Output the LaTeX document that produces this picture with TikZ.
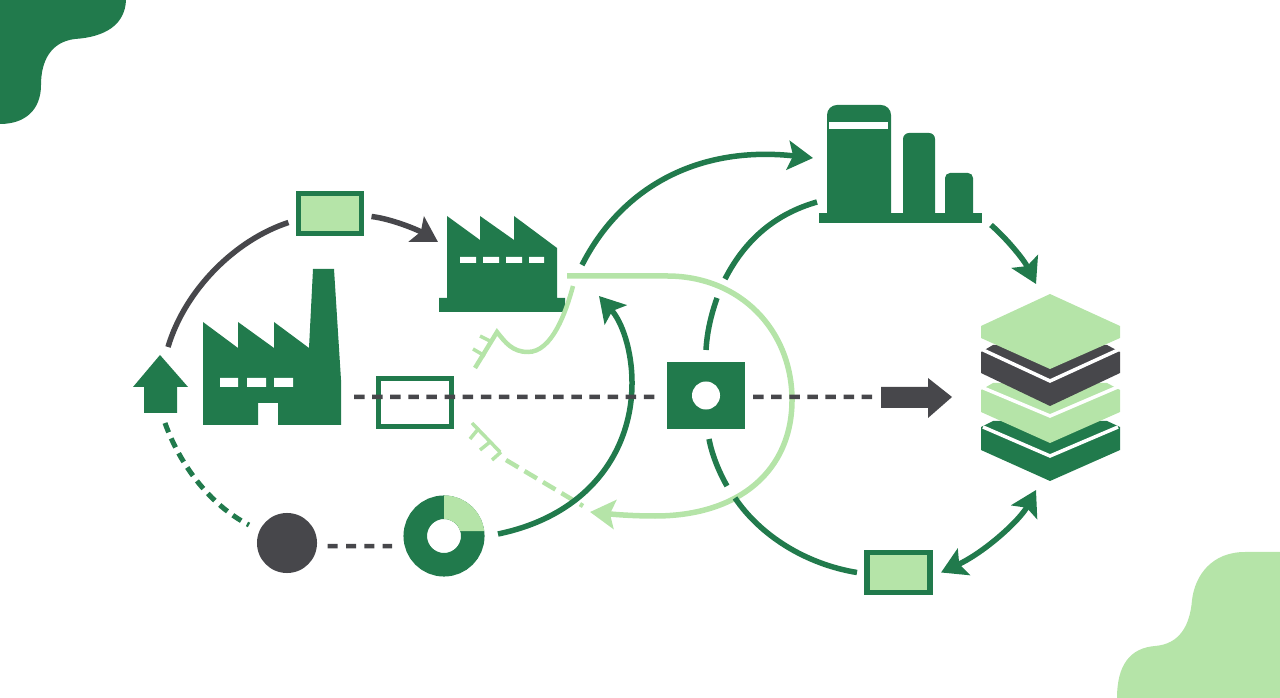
\documentclass[tikz,border=0pt]{standalone}
\usepackage{tikz}
\usetikzlibrary{arrows.meta,positioning,calc}

\definecolor{forest}{HTML}{217A4C}
\definecolor{leaf}{HTML}{B5E4A8}
\definecolor{slate}{HTML}{47474B}

\begin{document}
\begin{tikzpicture}[
  x=0.01cm, y=-0.01cm,
  tokenbox/.style={draw=forest, line width=.055cm, fill=leaf, inner sep=0pt, outer sep=0pt, minimum width=.63cm, minimum height=.40cm},
  hollowbox/.style={draw=forest, line width=.055cm, inner sep=0pt, outer sep=0pt, minimum width=.725cm, minimum height=.475cm},
  arr/.style={-{Stealth[length=.25cm, width=.29cm, inset=.05cm]}, line width=.055cm},
  biarr/.style={{Stealth[length=.25cm, width=.29cm, inset=.05cm]}-{Stealth[length=.25cm, width=.29cm, inset=.05cm]}, line width=.055cm},
  arc line/.style={line width=.055cm},
  flow dash/.style={slate, line width=.045cm, dash pattern=on .105cm off .076cm},
  thin tick/.style={leaf, line width=.035cm}
]
\useasboundingbox (0,0) rectangle (1280,698);

% ---------- Corner blobs ----------
\fill[forest] (0,0) -- (126,0) .. controls (125,25) and (105,37) .. (75,39)
  .. controls (50,42) and (41,62) .. (41,85) .. controls (41,110) and (25,124) .. (0,124) -- cycle;
\fill[leaf] (1280,552) -- (1245,552) .. controls (1212,552) and (1195,575) .. (1192,600)
  .. controls (1190,625) and (1180,644) .. (1155,646) .. controls (1130,648) and (1117,665) .. (1117,698)
  -- (1280,698) -- cycle;

% ---------- Boxes and dots ----------
\node[tokenbox] (topbox) at (330,213.5) {};
\node[tokenbox] (lowbox) at (898.5,572.5) {};
\node[hollowbox] (midbox) at (415,402.5) {};
\node[fill=forest, inner sep=0pt, outer sep=0pt, minimum width=.78cm, minimum height=.67cm] (hub) at (706,395.5) {};
\node[circle, fill=white, inner sep=0pt, minimum size=.28cm] (hubhole) at (hub.center) {};
\node[circle, fill=slate, inner sep=0pt, minimum size=.60cm] (greydot) at (287,543) {};
\node[circle, draw=forest, line width=.235cm, inner sep=0pt, outer sep=0pt, minimum size=.575cm] (donut) at (444,536) {};
\fill[leaf] ([yshift=.405cm]donut.center) arc[start angle=90, end angle=7, radius=.405cm]
  -- (460.3,531) arc[start angle=17, end angle=90, radius=.17cm] -- cycle;

% ---------- Lower factory ----------
\fill[forest] (203,322) -- (238,348) -- (238,322) -- (274,348) -- (274,322) -- (309,348) -- (313,269) -- (334,269)
  -- (341,380) -- (341,425) -- (278,425) -- (278,403) -- (258,403) -- (258,425) -- (203,425) -- cycle;
\fill[white] (220,378) rectangle (238,387) (247,378) rectangle (266,387) (274,378) rectangle (293,387);
\fill[forest] (160,355) -- (188,387) -- (177,387) -- (177,413) -- (144,413) -- (144,387) -- (133,387) -- cycle;

% ---------- Upper factory ----------
\fill[forest] (447,216) -- (480,240) -- (480,216) -- (514,240) -- (514,216) -- (557,248) -- (557,298) -- (565,298)
  -- (565,312) -- (439,312) -- (439,298) -- (447,298) -- cycle;
\fill[white] (460,257) rectangle (476,263) (483,257) rectangle (499,263) (506,257) rectangle (522,263) (529,257) rectangle (544,263);

% ---------- Silos ----------
\fill[forest, rounded corners=.1cm] (827,215) -- (827,105) -- (891,105) -- (891,215);
\fill[forest, rounded corners=.06cm] (903,215) -- (903,133) -- (935,133) -- (935,215);
\fill[forest, rounded corners=.05cm] (945,215) -- (945,173) -- (973,173) -- (973,215);
\fill[forest] (819,213) rectangle (982,223);
\fill[white] (829,122) rectangle (888,129);

% ---------- Layer stack ----------
\fill[forest] (981,427) -- (993,421) -- (1107,421) -- (1120,427) -- (1120,450) -- (1050,481) -- (981,450) -- cycle;
\draw[white, line width=.035cm] (983,427) -- (1050,456) -- (1118,427);
\fill[leaf] (981,390) -- (993,383) -- (1107,383) -- (1120,390) -- (1120,412) -- (1050,443) -- (981,412) -- cycle;
\draw[white, line width=.035cm] (981,387) -- (1050,416) -- (1120,386);
\fill[slate] (981,352) -- (993,345) -- (1107,345) -- (1120,352) -- (1120,373) -- (1050,406) -- (981,373) -- cycle;
\draw[white, line width=.035cm] (981,349) -- (1050,381) -- (1120,349);
\fill[leaf] (1050,294) -- (1120,326) -- (1120,338) -- (1050,369) -- (981,338) -- (981,326) -- cycle;

% ---------- Outer ring on the left ----------
\coordinate (houseup) at (168,347);
\coordinate (topboxin) at ([xshift=-.10cm, yshift=-.09cm]topbox.west);
\coordinate (topboxout) at ([xshift=.10cm, yshift=-.03cm]topbox.east);
\coordinate (factoryin) at (438,242);
\coordinate (housedown) at (165,423);
\coordinate (dotin) at (249,525);
\draw[slate, arc line] (houseup) .. controls (185,290) and (235,240) .. (topboxin);
\draw[slate, arr] (topboxout) .. controls (392,219) and (418,230) .. (factoryin);
\draw[forest, line width=.05cm, dash pattern=on .10cm off .066cm] (housedown) .. controls (180,465) and (210,505) .. (dotin);
\coordinate (dotout) at ([xshift=.10cm, yshift=-.03cm]greydot.east);
\coordinate (donutin) at ([xshift=-.23cm, yshift=-.10cm]donut.west);
\draw[flow dash, dash pattern=on .10cm off .083cm] (dotout) -- (donutin);

% ---------- Light return lines ----------
\coordinate (feedstart) at (567,276);
\coordinate (feedend) at (590,512);
\draw[leaf, arr] (feedstart) -- (667,276) .. controls (740,276) and (792,330) .. (792,400)
  .. controls (792,470) and (740,516) .. (655,516) .. controls (630,516) and (610,514) .. (feedend);
\coordinate (wirestart) at (573,286);
\coordinate (wirekink) at (497,332);
\coordinate (wireend) at (475,368);
\draw[thin tick, line width=.045cm] (wirestart) .. controls (566,312) and (552,352) .. (528,352)
  .. controls (512,352) and (505,342) .. (wirekink) -- (wireend);
\draw[thin tick] (480,336) -- (492,342) (473,349) -- (485,356);
\coordinate (combstart) at (472,423);
\coordinate (combend) at (500,452);
\draw[thin tick] (combstart) -- (combend) (479,428) -- (470,439) (490,442) -- (480,450) (501,452) -- (492,460);
\coordinate (tracestart) at (506,460);
\coordinate (traceend) at (583,506);
\draw[leaf, line width=.045cm, dash pattern=on .145cm off .07cm] (tracestart) -- (traceend);

% ---------- Green arcs ----------
\coordinate (donutout) at (498,534);
\coordinate (factoryback) at (599,296);
\draw[forest, arr] (donutout) .. controls (590,515) and (632,450) .. (632,383) .. controls (632,350) and (622,322) .. (factoryback);
\coordinate (factoryout) at (582,265);
\coordinate (siloin) at (813,158);
\draw[forest, arr] (factoryout) .. controls (620,190) and (695,145) .. (siloin);
\coordinate (siloout) at (991,225);
\coordinate (stackin) at (1036,284);
\draw[forest, arr] (siloout) .. controls (1008,240) and (1024,260) .. (stackin);
\coordinate (stackout) at (1036,490);
\coordinate (lowboxin) at ([xshift=.11cm]lowbox.east);
\draw[forest, biarr] (stackout) .. controls (1020,520) and (985,552) .. (lowboxin);

% ---------- Ring through the hub ----------
\coordinate (silotail) at (817,202);
\coordinate (hubtop) at ([yshift=.12cm]hub.north);
\coordinate (hubbase) at ([xshift=.03cm, yshift=-.10cm]hub.south);
\coordinate (lowboxtail) at ([xshift=-.10cm]lowbox.west);
\draw[forest, arc line] (silotail) .. controls (775,214) and (745,240) .. (725,279);
\draw[forest, arc line] (717,298) .. controls (711,315) and (707,332) .. (hubtop);
\draw[forest, arc line] (hubbase) .. controls (712,455) and (719,472) .. (727,486);
\draw[forest, arc line] (735,498) .. controls (760,535) and (805,564) .. (lowboxtail);

% ---------- Central flow line ----------
\coordinate (factorytail) at (354,397);
\coordinate (hubleft) at ([xshift=-.10cm, yshift=-.015cm]hub.west);
\coordinate (hubright) at ([xshift=.08cm, yshift=-.015cm]hub.east);
\coordinate (blockarrow) at (872,397);
\draw[flow dash] (factorytail) -- (hubleft);
\draw[flow dash] (hubright) -- (blockarrow);
\fill[slate] (881,387) -- (928,387) -- (928,378) -- (952,397) -- (928,418) -- (928,408) -- (881,408) -- cycle;
\end{tikzpicture}
\end{document}
